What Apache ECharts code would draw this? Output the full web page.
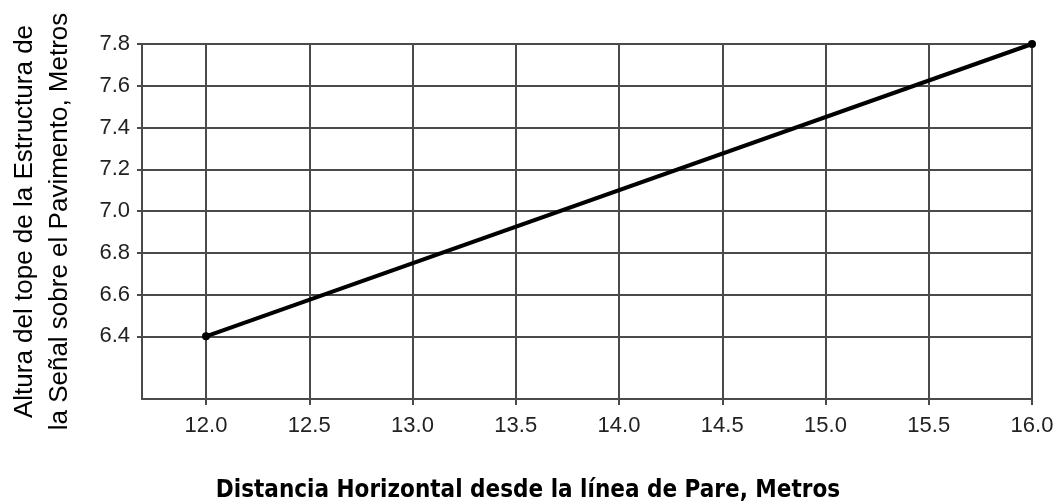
<!DOCTYPE html>
<html>
<head>
<meta charset="utf-8">
<script src="https://cdn.jsdelivr.net/npm/echarts@6/dist/echarts.min.js"></script>
<style>
  html, body { margin: 0; padding: 0; background: #fff; }
  #chart { width: 1057px; height: 504px; }
</style>
</head>
<body>
<div id="chart"></div>
<script>
// distancia horizontal (m) y altura (m)
const distancias = [12.0, 16.0];
const alturas = [6.4, 7.8];
const xTicks = [12.0, 12.5, 13.0, 13.5, 14.0, 14.5, 15.0, 15.5, 16.0];
const yTicks = [6.4, 6.6, 6.8, 7.0, 7.2, 7.4, 7.6, 7.8];

const chart = echarts.init(document.getElementById("chart"));

const gridColor = "#4a4a4a";

const option = {
  animation: false,
  grid: { left: 142, right: 25, top: 44, bottom: 105, outerBoundsMode: "none", containLabel: false },
  xAxis: {
    type: "value",
    min: 11.69,
    max: 16.0,
    name: "Distancia Horizontal desde la línea de Pare, Metros",
    nameLocation: "middle",
    nameGap: 80,
    nameTextStyle: {
      fontFamily: "Liberation Sans Narrow, DejaVu Sans Condensed, sans-serif",
      fontWeight: "bold",
      fontSize: 24,
      color: "#000",
      padding: [0, 118, 0, 0]
    },
    axisLine: { show: true, onZero: false, lineStyle: { color: gridColor, width: 2 } },
    axisTick: { show: true, length: 6, customValues: xTicks, lineStyle: { color: gridColor, width: 2 } },
    axisLabel: {
      customValues: xTicks,
      formatter: v => v.toFixed(1),
      fontFamily: "Liberation Sans, Arial, sans-serif",
      fontSize: 22,
      color: "#222",
      margin: 16
    },
    splitLine: { show: true, lineStyle: { color: gridColor, width: 2 } }
  },
  yAxis: {
    type: "value",
    min: 6.1,
    max: 7.8,
    name: "Altura del tope de la Estructura de\nla Señal sobre el Pavimento, Metros",
    nameLocation: "middle",
    nameRotate: 90,
    nameGap: 65,
    nameTextStyle: {
      fontFamily: "Liberation Sans, Arial, sans-serif",
      fontSize: 26,
      lineHeight: 35,
      color: "#000"
    },
    axisLine: { show: true, lineStyle: { color: gridColor, width: 2 } },
    axisTick: { show: true, length: 5, customValues: yTicks, lineStyle: { color: gridColor, width: 2 } },
    axisLabel: {
      customValues: yTicks,
      formatter: v => v.toFixed(1),
      fontFamily: "Liberation Sans, Arial, sans-serif",
      fontSize: 22,
      color: "#222",
      margin: 12
    },
    splitLine: { show: true, lineStyle: { color: gridColor, width: 2 } }
  },
  series: [
    {
      type: "line",
      data: distancias.map((d, i) => [d, alturas[i]]),
      symbol: "circle",
      symbolSize: 8,
      itemStyle: { color: "#000" },
      lineStyle: { color: "#000", width: 4 },
      z: 5
    }
  ]
};

chart.setOption(option);
</script>
</body>
</html>
